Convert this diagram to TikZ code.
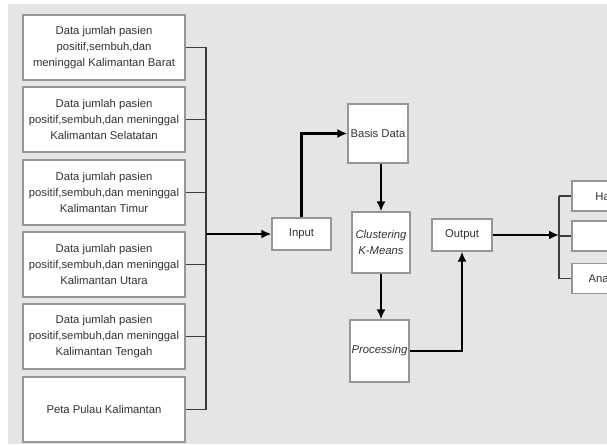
\documentclass[tikz,border=0pt]{standalone}
\usepackage{fontspec}
\setmainfont{Liberation Sans}
\usetikzlibrary{arrows.meta}

\definecolor{bggray}{RGB}{229,229,229}
\definecolor{boxline}{RGB}{150,150,150}
\definecolor{txtgray}{RGB}{50,50,50}
\definecolor{brkgray}{RGB}{60,60,60}

\tikzset{
  box/.style={draw=boxline, line width=1.2pt, fill=white, align=center,
    text=txtgray, inner sep=1pt, font=\fontsize{11.3}{16}\selectfont},
  databox/.style={box, minimum width=162pt, minimum height=65pt},
  brk/.style={draw=brkgray, line width=1.6pt},
  arr/.style={draw=black, line width=2.2pt, -{Latex[length=10pt,width=9pt]}}
}

\begin{document}
\begin{tikzpicture}[x=1pt, y=-1pt]
    \clip (0,0) rectangle (607,444);
    \fill[bggray] (8,4) rectangle (607,444);

    % sumber data
    \node[databox] (d1) at (104,47.5) {Data jumlah pasien\\positif,sembuh,dan\\meninggal Kalimantan Barat};
    \node[databox] (d2) at (104,119.5) {Data jumlah pasien\\positif,sembuh,dan meninggal\\Kalimantan Selatatan};
    \node[databox] (d3) at (104,192.5) {Data jumlah pasien\\positif,sembuh,dan meninggal\\Kalimantan Timur};
    \node[databox] (d4) at (104,264.5) {Data jumlah pasien\\positif,sembuh,dan meninggal\\Kalimantan Utara};
    \node[databox] (d5) at (104,336.5) {Data jumlah pasien\\positif,sembuh,dan meninggal\\Kalimantan Tengah};
    \node[databox] (d6) at (104,409.5) {Peta Pulau Kalimantan};

    % proses
    \node[box, minimum width=59pt, minimum height=32pt] (inp) at (301.5,234) {Input};
    \node[box, minimum width=60pt, minimum height=59pt] (bd) at (378,133.5) {Basis Data};
    \node[box, minimum width=58pt, minimum height=61pt] (cl) at (381,242.5) {\itshape Clustering\\\itshape K-Means};
    \node[box, minimum width=59pt, minimum height=62pt] (pr) at (379.5,351) {\itshape Processing};
    \node[box, minimum width=60pt, minimum height=32pt] (out) at (462,235) {Output};

    % hasil
    \node[box, minimum width=72pt, minimum height=30pt] (r1) at (608,196) {Hasil};
    \node[box, minimum width=72pt, minimum height=30pt] (r2) at (608,236) {};
    \node[box, minimum width=72pt, minimum height=30pt] (r3) at (608,278.5) {Analisis};

    \coordinate (bx) at (206,0);
    \coordinate (rb) at (559,0);

    \foreach \i in {1,...,6}{
      \draw[brk] (d\i.east) -- (d\i.east -| bx);
    }
    \draw[brk] (d1.east -| bx) -- (d6.east -| bx);
    \draw[arr] (bx |- inp.west) -- (inp.west);
    \draw[arr] (inp.north) -- (inp.north |- bd.west) -- (bd.west);
    \draw[arr] (bd.south -| cl.north) -- (cl.north);
    \draw[arr] (cl.south) -- (cl.south |- pr.north);
    \draw[arr] (pr.east) -- (pr.east -| out.south) -- (out.south);
    \draw[arr] (out.east) -- (out.east -| rb);

    \foreach \i in {1,2,3}{
      \draw[brk] (rb |- r\i.west) -- (r\i.west);
    }
    \draw[brk] (rb |- r1.west) -- (rb |- r3.west);
  \end{tikzpicture}
\end{document}
